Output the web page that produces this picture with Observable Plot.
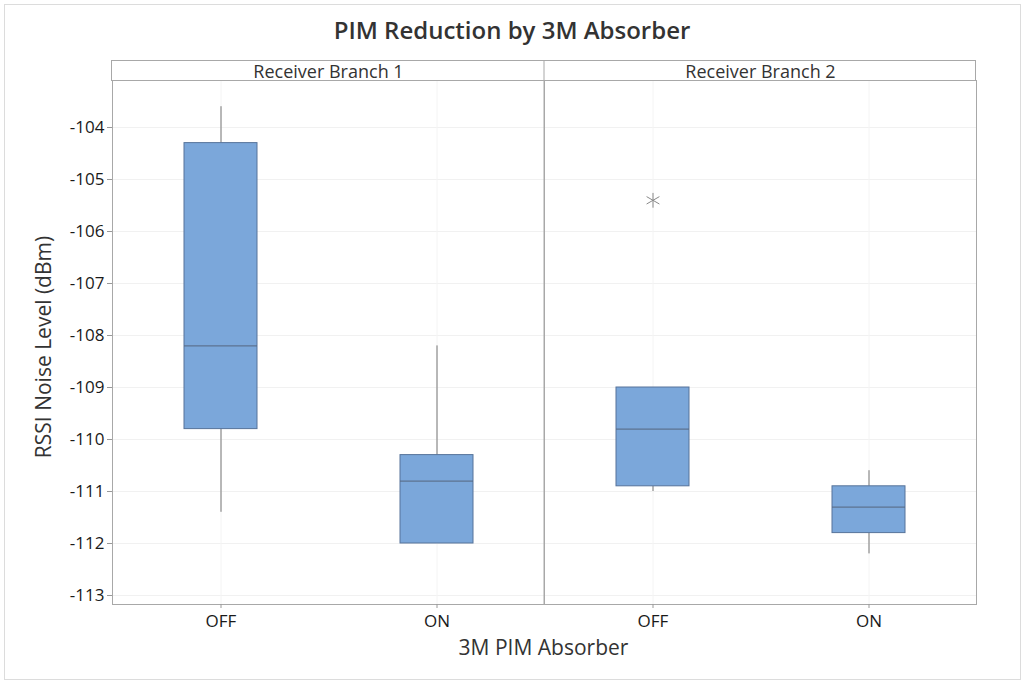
<!DOCTYPE html>
<html>
<head>
<meta charset="utf-8">
<script src="https://cdn.jsdelivr.net/npm/d3@7"></script>
<script src="https://cdn.jsdelivr.net/npm/@observablehq/plot@0.6"></script>
<style>
  html, body { margin: 0; padding: 0; background: #fff; }
  #wrap { position: relative; width: 1024px; height: 683px; overflow: hidden; font-family: "Open Sans", "Noto Sans", sans-serif; }
  #border { position: absolute; left: 4px; top: 4px; right: 3px; bottom: 3px; border: 1px solid #dcdcdc; pointer-events: none; }
  #title { height: 60px; line-height: 60px; text-align: center; font-size: 24px; color: #333; font-weight: 600; }
  svg { display: block; }
</style>
</head>
<body>
<div id="wrap">
  <div id="border"></div>
  <div id="title">PIM Reduction by 3M Absorber</div>
  <div id="chart"></div>
</div>
<script>
// Data (dBm)
const branches = ["Receiver Branch 1", "Receiver Branch 2"];
const absorber = ["OFF", "ON"];
const branchOf  = ["Receiver Branch 1", "Receiver Branch 1", "Receiver Branch 2", "Receiver Branch 2"];
const stateOf   = ["OFF", "ON", "OFF", "ON"];
const whiskerLo = [-111.4, -112.0, -111.0, -112.2];
const q1        = [-109.8, -112.0, -110.9, -111.8];
const median    = [-108.2, -110.8, -109.8, -111.3];
const q3        = [-104.3, -110.3, -109.0, -110.9];
const whiskerHi = [-103.6, -108.2, -109.0, -110.6];
const outlierBranch = ["Receiver Branch 2"];
const outlierState  = ["OFF"];
const outlierValue  = [-105.4];
const yTicks = [-104, -105, -106, -107, -108, -109, -110, -111, -112, -113];

const boxes = branchOf.map((b, i) => ({
  branch: b, state: stateOf[i], lo: whiskerLo[i], q1: q1[i], med: median[i], q3: q3[i], hi: whiskerHi[i]
}));
const outliers = outlierBranch.map((b, i) => ({branch: b, state: outlierState[i], v: outlierValue[i]}));

const mL = 111, mR = 48, mT = 20, mB = 79, W = 1024, H = 623;

const plot = Plot.plot({
  width: W, height: H,
  marginLeft: mL, marginRight: mR, marginTop: mT, marginBottom: mB,
  style: {fontFamily: "'Open Sans', 'Noto Sans', sans-serif", fontSize: "17px", color: "#1a1a1a", background: "transparent"},
  fx: {domain: branches, padding: 0, label: null},
  x: {domain: absorber, paddingInner: 0.663, paddingOuter: 0.3315, label: null},
  y: {domain: [-113.173, -103.096], label: null},
  marks: [
    Plot.gridY(yTicks, {stroke: "#f1f1f1", strokeOpacity: 1}),
    Plot.gridX({stroke: "#f4f4f4", strokeOpacity: 1}),
    Plot.frame({stroke: "#a8a8a8"}),
    Plot.ruleX(boxes, {fx: "branch", x: "state", y1: "lo", y2: "q1", stroke: "#777", strokeWidth: 1}),
    Plot.ruleX(boxes, {fx: "branch", x: "state", y1: "q3", y2: "hi", stroke: "#777", strokeWidth: 1}),
    Plot.barY(boxes, {fx: "branch", x: "state", y1: "q1", y2: "q3", fill: "#7ba7da", stroke: "#56739a", strokeWidth: 1}),
    Plot.tickY(boxes, {fx: "branch", x: "state", y: "med", stroke: "#56677f", strokeWidth: 1}),
    Plot.dot(outliers, {fx: "branch", x: "state", y: "v", symbol: "asterisk", r: 7, stroke: "#888", strokeWidth: 1}),
    Plot.axisY(yTicks, {tickSize: 5, tickPadding: 3, fontSize: 17, tickFormat: d => String(d), stroke: "#999", fill: "#1a1a1a", label: null}),
    Plot.axisX({tickSize: 4, tickPadding: 6, fontSize: 17, stroke: "#999", fill: "#1a1a1a", label: null}),
    Plot.axisFx({anchor: "top", tickSize: 0, tickPadding: 3, fontSize: 18, fill: "#333", label: null})
  ]
});

document.getElementById("chart").appendChild(plot);

// Facet header band outline and axis titles
const svg = d3.select(plot);
const g = svg.append("g").attr("fill", "none").attr("stroke", "#a8a8a8");
g.append("rect").attr("x", mL + 0.5).attr("y", 0.5).attr("width", W - mL - mR - 1).attr("height", mT);
const fx = plot.scale("fx");
branches.slice(1).forEach(b => {
  const xx = fx.apply(b);
  g.append("line").attr("x1", xx).attr("x2", xx).attr("y1", 0).attr("y2", H - mB);
});
svg.append("text")
  .attr("transform", `translate(44,${mT + (H - mT - mB) / 2 + 5}) rotate(-90)`)
  .attr("text-anchor", "middle").attr("dy", "0.35em")
  .attr("font-size", 21).attr("fill", "#333")
  .text("RSSI Noise Level (dBm)");
svg.append("text")
  .attr("x", mL + (W - mL - mR) / 2).attr("y", H - 28)
  .attr("text-anchor", "middle")
  .attr("font-size", 21).attr("fill", "#333")
  .text("3M PIM Absorber");
</script>
</body>
</html>
